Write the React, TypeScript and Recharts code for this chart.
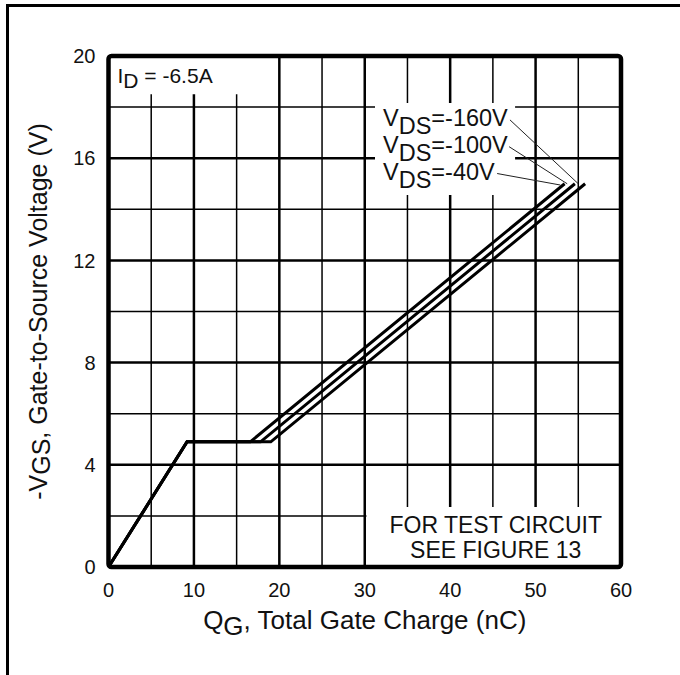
import React from 'react';
import { LineChart, Line, XAxis, YAxis, ReferenceLine, ReferenceArea } from 'recharts';

const FONT = '"Liberation Sans", Arial, Helvetica, sans-serif';
const INK = '#111';

// Gate charge curves, ID = -6.5A (q in nC, v = -VGS in volts)
const vds40 = [
  { q: 0, v: 0 },
  { q: 9.2, v: 4.9 },
  { q: 16.6, v: 4.9 },
  { q: 53.4, v: 15.0 },
];
const vds100 = [
  { q: 0, v: 0 },
  { q: 9.2, v: 4.9 },
  { q: 17.8, v: 4.9 },
  { q: 54.6, v: 15.0 },
];
const vds160 = [
  { q: 0, v: 0 },
  { q: 9.2, v: 4.9 },
  { q: 19.0, v: 4.9 },
  { q: 55.8, v: 15.0 },
];

const xTicks = [0, 10, 20, 30, 40, 50, 60];
const yTicks = [0, 4, 8, 12, 16, 20];
const xMinor = [5, 15, 25, 35, 45, 55];
const xMajor = [10, 20, 30, 40, 50];
const yMinor = [2, 6, 10, 14, 18];
const yMajor = [4, 8, 12, 16];

const vdsLabels = ['-160V', '-100V', '-40V'];
// leader lines from the end of each label to the curve ends
const leaderFrom = [
  { x: 47.0, y: 17.5 },
  { x: 46.9, y: 16.45 },
  { x: 45.5, y: 15.4 },
];
const leaderTo = [
  { x: 55.0, y: 15.0 },
  { x: 53.7, y: 15.0 },
  { x: 52.9, y: 14.95 },
];

const textStyle = { fontFamily: FONT, fill: INK };

function IdText(props: any) {
  const { x, y } = props.viewBox;
  return (
    <text x={x + 9} y={y + 27} fontSize={21} style={textStyle}>
      I
      <tspan dy={5}>D</tspan>
      <tspan dy={-5}> = -6.5A</tspan>
    </text>
  );
}

function VdsText(props: any) {
  const { x, y } = props.viewBox;
  return (
    <g>
      {vdsLabels.map((lab, i) => (
        <text key={lab} x={x + 8} y={y + 23 + i * 27} fontSize={23.5} style={textStyle}>
          V
          <tspan dy={8}>DS</tspan>
          <tspan dy={-8}>{'=' + lab}</tspan>
        </text>
      ))}
    </g>
  );
}

function NoteText(props: any) {
  const { x, y, width } = props.viewBox;
  const cx = x + width / 2 + 2;
  return (
    <g>
      <text x={cx} y={y + 26} fontSize={23} textAnchor="middle" style={textStyle}>
        FOR TEST CIRCUIT
      </text>
      <text x={cx} y={y + 51} fontSize={23} textAnchor="middle" style={textStyle}>
        SEE FIGURE 13
      </text>
    </g>
  );
}

function AxisTitles(props: any) {
  const { x, y, width, height } = props.viewBox;
  return (
    <g>
      <text x={x + width / 2} y={y + height + 62} fontSize={26} textAnchor="middle" style={textStyle}>
        Q
        <tspan dy={6}>G</tspan>
        <tspan dy={-6}>, Total Gate Charge (nC)</tspan>
      </text>
      <text
        transform={`translate(${x - 62}, ${y + height / 2}) rotate(-90)`}
        fontSize={25}
        textAnchor="middle"
        style={textStyle}
      >
        -V
        <tspan dy={3}>GS</tspan>
        <tspan dy={-3}>, Gate-to-Source Voltage (V)</tspan>
      </text>
    </g>
  );
}

export default function App() {
  return (
    <div style={{ position: 'absolute', left: 0, top: 0, width: 680, height: 675, background: '#fff' }}>
      <div
        style={{
          position: 'absolute',
          left: 6,
          top: 4,
          width: 674,
          height: 671,
          borderTop: '3px solid #000',
          borderLeft: '3px solid #000',
          boxSizing: 'border-box',
        }}
      />
      <div style={{ position: 'absolute', left: 0, top: 0 }}>
        <LineChart width={680} height={675} margin={{ top: 56, right: 59, bottom: 78, left: 48.5 }}>
          <XAxis
            type="number"
            dataKey="q"
            domain={[0, 60]}
            ticks={xTicks}
            axisLine={false}
            tickLine={false}
            tickMargin={10}
            height={30}
            tick={{ fontSize: 20, fill: INK, fontFamily: FONT }}
          />
          <YAxis
            type="number"
            dataKey="v"
            domain={[0, 20]}
            ticks={yTicks}
            axisLine={false}
            tickLine={false}
            tickMargin={7}
            width={60}
            tick={{ fontSize: 20, fill: INK, fontFamily: FONT }}
          />

          {xMinor.map((q) => (
            <ReferenceLine key={'xm' + q} x={q} stroke="#000" strokeWidth={1.5} zIndex={100} />
          ))}
          {yMinor.map((v) => (
            <ReferenceLine key={'ym' + v} y={v} stroke="#000" strokeWidth={1.5} zIndex={100} />
          ))}
          {xMajor.map((q) => (
            <ReferenceLine key={'xM' + q} x={q} stroke="#000" strokeWidth={2.5} zIndex={110} />
          ))}
          {yMajor.map((v) => (
            <ReferenceLine key={'yM' + v} y={v} stroke="#000" strokeWidth={2.5} zIndex={110} />
          ))}

          <ReferenceArea x1={0} x2={19} y1={18.5} y2={20} fill="#fff" fillOpacity={1} stroke="none" zIndex={200} label={(p: any) => <IdText {...p} />} />
          <ReferenceArea x1={31.2} x2={47.6} y1={14.56} y2={18.16} fill="#fff" fillOpacity={1} stroke="none" zIndex={200} label={(p: any) => <VdsText {...p} />} />
          <ReferenceArea x1={30.2} x2={60} y1={0} y2={2.35} fill="#fff" fillOpacity={1} stroke="none" zIndex={200} label={(p: any) => <NoteText {...p} />} />

          <Line data={vds40} dataKey="v" stroke="#000" strokeWidth={3} dot={false} isAnimationActive={false} />
          <Line data={vds100} dataKey="v" stroke="#000" strokeWidth={3} dot={false} isAnimationActive={false} />
          <Line data={vds160} dataKey="v" stroke="#000" strokeWidth={3} dot={false} isAnimationActive={false} />

          {vdsLabels.map((lab, i) => (
            <ReferenceLine key={'ld' + lab} segment={[leaderFrom[i], leaderTo[i]]} stroke="#222" strokeWidth={1} zIndex={450} />
          ))}

          <ReferenceArea
            x1={0}
            x2={60}
            y1={0}
            y2={20}
            fill="none"
            stroke="#000"
            strokeWidth={4.5}
            radius={3}
            zIndex={600}
            label={(p: any) => <AxisTitles {...p} />}
          />
        </LineChart>
      </div>
    </div>
  );
}
